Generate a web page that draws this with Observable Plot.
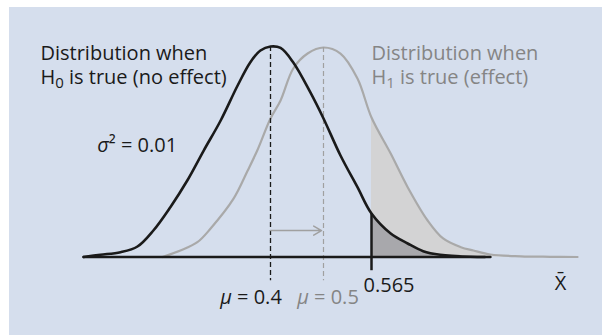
<!DOCTYPE html>
<html><head><meta charset="utf-8">
<script src="https://cdn.jsdelivr.net/npm/d3@7"></script>
<script src="https://cdn.jsdelivr.net/npm/@observablehq/plot@0.6"></script>
<style>
html,body{margin:0;padding:0;background:#fff;overflow:hidden;width:602px;height:335px}
#chart{position:absolute;left:9px;top:7px;width:593px;height:328px;background:#d5deed}
</style></head><body><div id="chart"></div>
<script>
// Means, critical value and variance
const mu0 = 0.4;
const mu1 = 0.5;
const critical = 0.565;
const variance = "0.01";

// Distribution under H0 (black)
const h0X = [0.047, 0.079, 0.117, 0.149, 0.179, 0.211, 0.243, 0.274, 0.306, 0.338, 0.362, 0.381, 0.400, 0.419, 0.443, 0.475, 0.500, 0.523, 0.546, 0.565, 0.591, 0.614, 0.635, 0.658, 0.699, 0.726];
const h0Density = [0, 0.042, 0.091, 0.199, 0.502, 0.944, 1.450, 2.018, 2.587, 3.250, 3.691, 3.913, 3.989, 3.961, 3.686, 3.123, 2.625, 1.923, 1.323, 0.824, 0.445, 0.256, 0.110, 0.042, 0.004, 0];

// Distribution under H1 (grey)
const h1X = [0.196, 0.230, 0.262, 0.287, 0.330, 0.357, 0.375, 0.400, 0.419, 0.443, 0.470, 0.500, 0.523, 0.546, 0.565, 0.591, 0.614, 0.641, 0.662, 0.686, 0.703, 0.726, 0.767, 0.807, 0.844];
const h1Density = [0, 0.123, 0.280, 0.540, 1.100, 1.639, 2.018, 2.625, 2.966, 3.572, 3.856, 3.970, 3.856, 3.383, 2.644, 1.961, 1.323, 0.692, 0.351, 0.186, 0.123, 0.047, 0.013, 0.004, 0];

// Labels
const h0Label = "Distribution when\nH0 is true (no effect)";
const h1Label = "Distribution when\nH1 is true (effect)";
const varianceLabel = `σ² = ${variance}`;
const tickLabels = [`μ = ${mu0}`, `μ = ${mu1}`, `${critical}`];
const axisLabel = "X\u0304";

const h0 = h0X.map((x, i) => ({x, density: h0Density[i]}));
const h1 = h1X.map((x, i) => ({x, density: h1Density[i]}));
const h0Peak = d3.max(h0Density);
const h1Peak = d3.max(h1Density);
const h0AtCritical = h0Density[h0X.indexOf(critical)];

const BLACK = "#1a1a1a", GREY = "#a9a9a9", GREYTEXT = "#858585";
const curve = "catmull-rom";
const fs = 20;

const plot = Plot.plot({
  width: 593,
  height: 328,
  marginTop: 39,
  marginBottom: 78.5,
  marginLeft: 0,
  marginRight: 0,
  x: {type: "linear", domain: [mu0, mu1, critical], range: [261, 314, 362], axis: null},
  y: {domain: [0, h0Peak], axis: null},
  style: {background: "transparent", fontFamily: "'Open Sans', sans-serif", overflow: "visible"},
  marks: [
    Plot.areaY(h1, {x: "x", y: "density", filter: d => d.x >= critical, fill: "#d3d3d4", curve}),
    Plot.areaY(h0, {x: "x", y: "density", filter: d => d.x >= critical, fill: "#a8a8ac", curve}),
    Plot.line(h1, {x: "x", y: "density", stroke: GREY, strokeWidth: 2.2, curve}),
    Plot.ruleX([mu1], {y1: h1Peak, y2: -0.45, stroke: "#a0a0a0", strokeWidth: 1.2, strokeDasharray: "5,3"}),
    Plot.ruleX([mu0], {y1: h0Peak, y2: -0.45, stroke: BLACK, strokeWidth: 1.3, strokeDasharray: "5,3"}),
    Plot.arrow([{a: mu0, b: mu1}], {x1: "a", x2: "b", y1: 0.5, y2: 0.5, stroke: "#a0a0a0", strokeWidth: 1.5, headLength: 9, insetEnd: 2, bend: 0}),
    Plot.ruleY([0], {x1: h0X[0], x2: 0.72, stroke: BLACK, strokeWidth: 2.5}),
    Plot.line(h0, {x: "x", y: "density", stroke: BLACK, strokeWidth: 2.6, curve}),
    Plot.ruleX([critical], {y1: h0AtCritical, y2: -0.26, stroke: BLACK, strokeWidth: 2.5}),
    Plot.text([h0Label], {x: -0.034, y: 3.282, text: d => d, textAnchor: "start", lineAnchor: "bottom", lineHeight: 24 / fs, fontSize: fs, fill: BLACK}),
    Plot.text([h1Label], {x: critical, y: 3.282, text: d => d, textAnchor: "start", lineAnchor: "bottom", lineHeight: 24 / fs, fontSize: fs, fill: GREYTEXT}),
    Plot.text([varianceLabel], {x: 0.073, y: 1.986, text: d => d, textAnchor: "start", lineAnchor: "bottom", fontSize: fs, fill: BLACK}),
    Plot.text([mu0], {x: d => d, y: 0, text: [tickLabels[0]], textAnchor: "middle", lineAnchor: "bottom", dx: -19.5, dy: 46.5, fontSize: fs, fill: BLACK}),
    Plot.text([mu1], {x: d => d, y: 0, text: [tickLabels[1]], textAnchor: "middle", lineAnchor: "bottom", dx: 4.5, dy: 46.5, fontSize: fs, fill: GREYTEXT}),
    Plot.text([critical], {x: d => d, y: 0, text: [tickLabels[2]], textAnchor: "start", lineAnchor: "bottom", dx: -8, dy: 34.5, fontSize: fs, fill: BLACK}),
    Plot.text([axisLabel], {x: 0.821, y: 0, text: d => d, textAnchor: "middle", lineAnchor: "bottom", dy: 32.8, fontSize: fs, fill: BLACK})
  ]
});

// Typographic refinements: italic Greek letters and subscripted hypothesis indices
function rich(node) {
  const s = node.textContent;
  if (!/[μσ]|H\d/.test(s)) return;
  node.textContent = "";
  const re = /([μσ])|H(\d)/g;
  let last = 0, m, pending = 0;
  const add = (t, opt = {}) => {
    if (!t) return;
    const ts = document.createElementNS("http://www.w3.org/2000/svg", "tspan");
    ts.textContent = t;
    if (opt.italic) ts.setAttribute("font-style", "italic");
    if (opt.sub) { ts.setAttribute("font-size", 15); ts.setAttribute("dy", 4); pending = -4; }
    else if (pending) { ts.setAttribute("dy", pending); pending = 0; }
    node.appendChild(ts);
  };
  while ((m = re.exec(s))) {
    if (m.index > last) add(s.slice(last, m.index));
    if (m[1]) add(m[1], {italic: true});
    else { add("H"); add(m[2], {sub: true}); }
    last = re.lastIndex;
  }
  add(s.slice(last));
}
d3.select(plot).selectAll("text, tspan").each(function () {
  if (this.children.length === 0) rich(this);
});

document.getElementById("chart").appendChild(plot);
</script></body></html>
